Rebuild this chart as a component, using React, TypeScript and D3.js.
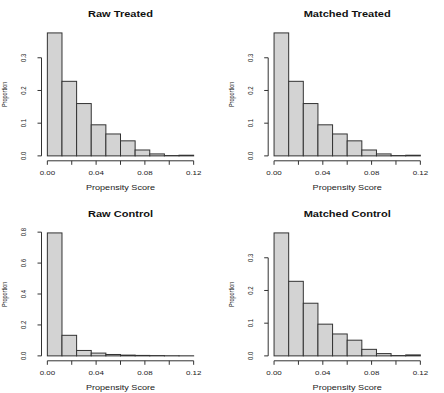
import * as React from "react";
import * as d3 from "d3";

// histogram bins (propensity score)
const binEdges = [0, 0.012, 0.024, 0.036, 0.048, 0.06, 0.072, 0.084, 0.096, 0.108, 0.12];

// proportions per bin
const rawTreated = [0.376, 0.228, 0.16, 0.095, 0.067, 0.046, 0.018, 0.006, 0.001, 0.002];
const matchedTreated = [0.376, 0.228, 0.16, 0.095, 0.067, 0.046, 0.018, 0.006, 0.001, 0.002];
const rawControl = [0.795, 0.133, 0.035, 0.018, 0.009, 0.005, 0.003, 0.002, 0.001, 0.0005];
const matchedControl = [0.376, 0.228, 0.161, 0.097, 0.067, 0.048, 0.02, 0.007, 0.001, 0.003];

const xTicks = [0, 0.02, 0.04, 0.06, 0.08, 0.1, 0.12];
const xLabels = ["0.00", "0.04", "0.08", "0.12"];
const yTicksSmall = [0, 0.1, 0.2, 0.3];
const yTicksLarge = [0, 0.2, 0.4, 0.6, 0.8];

const panels = [
  { title: "Raw Treated", values: rawTreated, yTicks: yTicksSmall, col: 0, row: 0 },
  { title: "Matched Treated", values: matchedTreated, yTicks: yTicksSmall, col: 1, row: 0 },
  { title: "Raw Control", values: rawControl, yTicks: yTicksLarge, col: 0, row: 1 },
  { title: "Matched Control", values: matchedControl, yTicks: yTicksSmall, col: 1, row: 1 },
];

const W = 444;
const H = 393;
const colStep = 226.7;
const rowStep = 200;
const plot = { left: 41.5, right: 199.5, top: 28, bottom: 160.8 };
const font = "'Liberation Sans', Arial, Helvetica, sans-serif";
const sx = 1.3; // the picture is stretched sideways
const ink = "#333";

function Panel({ title, values, yTicks, col, row }) {
  const ext = 0.12 * 0.04;
  const x = d3.scaleLinear().domain([-ext, 0.12 + ext]).range([plot.left, plot.right]);
  const m = d3.max(values);
  const y = d3.scaleLinear().domain([-0.04 * m, 1.04 * m]).range([plot.bottom, plot.top]);
  const cx = (plot.left + plot.right) / 2;
  const fmtY = d3.format(".1f");

  return (
    <g transform={`translate(${col * colStep},${row * rowStep})`}>
      <text transform={`translate(${cx},17) scale(${sx},1)`} textAnchor="middle"
        fontFamily={font} fontWeight="bold" fontSize={8.5} fill="#111">{title}</text>

      {values.map((v, i) => (
        <rect key={i} x={x(binEdges[i])} y={y(v)}
          width={x(binEdges[i + 1]) - x(binEdges[i])} height={Math.max(0, y(0) - y(v))}
          fill="#d3d3d3" stroke={ink} strokeWidth={1} />
      ))}

      {/* x axis */}
      <line x1={x(0)} x2={x(0.12)} y1={plot.bottom} y2={plot.bottom} stroke={ink} />
      {xTicks.map(t => (
        <line key={t} x1={x(t)} x2={x(t)} y1={plot.bottom} y2={plot.bottom + 4} stroke={ink} />
      ))}
      {xLabels.map(l => (
        <text key={l} transform={`translate(${x(+l)},174.5) scale(${sx},1)`} textAnchor="middle"
          fontFamily={font} fontSize={6.1} fill="#222">{l}</text>
      ))}
      <text transform={`translate(${cx},189.5) scale(${sx},1)`} textAnchor="middle"
        fontFamily={font} fontSize={7} fill="#222">Propensity Score</text>

      {/* y axis */}
      <line x1={plot.left} x2={plot.left} y1={y(yTicks[0])} y2={y(yTicks[yTicks.length - 1])} stroke={ink} />
      {yTicks.map(t => (
        <g key={t}>
          <line x1={plot.left - 4} x2={plot.left} y1={y(t)} y2={y(t)} stroke={ink} />
          <text transform={`translate(26.3,${y(t)}) scale(1.2,1) rotate(-90)`} textAnchor="middle"
            fontFamily={font} fontSize={6} fill="#222">{fmtY(t)}</text>
        </g>
      ))}
      <text transform={`translate(6.8,${(plot.top + plot.bottom) / 2}) scale(1.35,1) rotate(-90)`} textAnchor="middle"
        fontFamily={font} fontSize={5.5} fill="#222">Proportion</text>
    </g>
  );
}

export default function App() {
  return (
    <svg width={W} height={H} style={{ display: "block", position: "absolute", left: 0, top: 0, background: "#fff" }}>
      <rect width={W} height={H} fill="#fff" />
      {panels.map(p => <Panel key={p.title} {...p} />)}
    </svg>
  );
}
